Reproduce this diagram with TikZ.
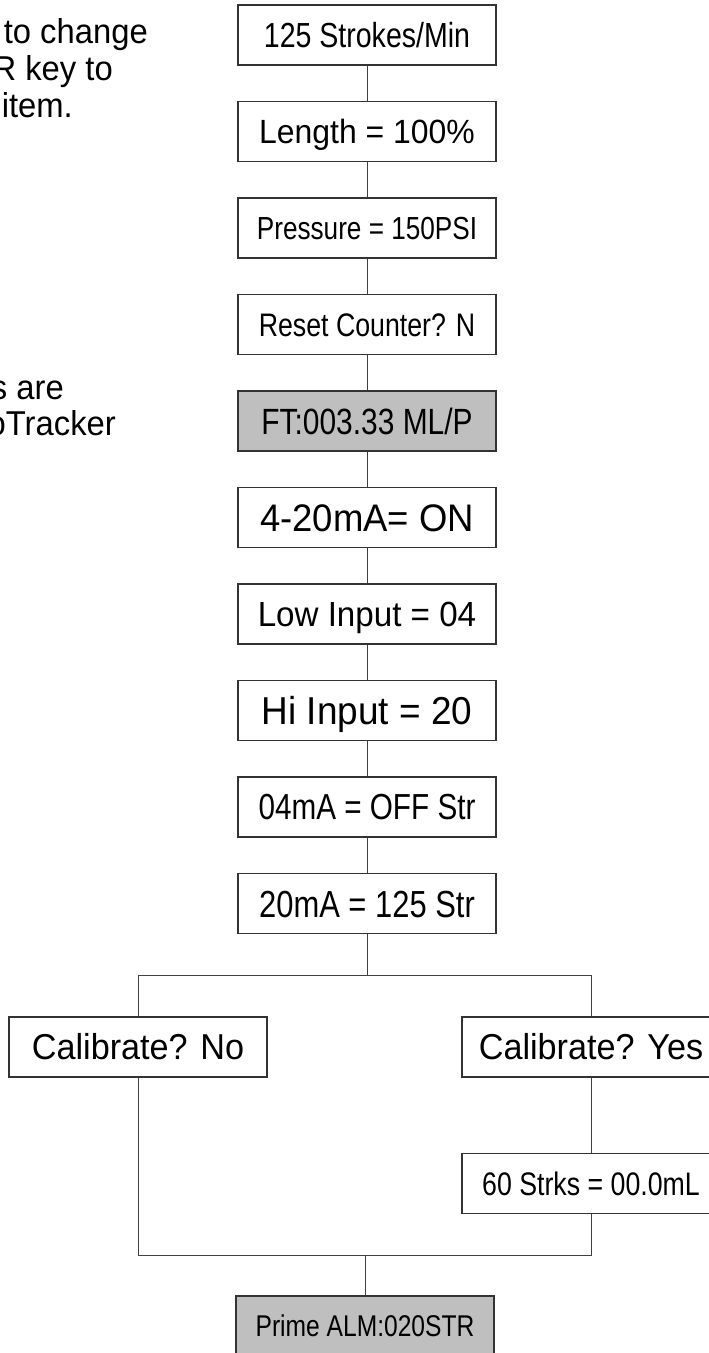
\documentclass[tikz,border=0pt]{standalone}
\usepackage{fontspec}
\setmainfont{Liberation Sans}
\newfontfamily\normfont[FakeStretch=0.95]{Liberation Sans}
\newfontfamily\narrowfont[FakeStretch=0.82]{Liberation Sans}
\begin{document}
\begin{tikzpicture}[x=1pt,y=-1pt,
  bx/.style={draw=black!80, line width=1.2pt, minimum width=258pt, minimum height=60pt, inner sep=0pt, text depth=0pt},
  gbx/.style={bx, fill=black!25},
  nf/.style 2 args={font=\normfont\fontsize{#1}{#1}\selectfont, text height=#2pt},
  cf/.style 2 args={font=\narrowfont\fontsize{#1}{#1}\selectfont, text height=#2pt},
  side/.style={inner sep=0pt, font=\normfont\fontsize{34.5}{34.5}\selectfont},
  conn/.style={draw=black!75, line width=1pt}]
\useasboundingbox (0,0) rectangle (709,1353);
\clip (0,0) rectangle (709,1353);
% side notes
\node[side, anchor=base east] (t1) at (148,43) {to change};
\node[side, anchor=base east] (t2) at (113,80) {R key to};
\node[side, anchor=base east] (t3) at (73,117) {item.};
\node[side, anchor=base east] (t4) at (64,399) {s are};
\node[side, anchor=base east] (t5) at (116,435) {oTracker};
% main column
\node[bx, cf={34.8}{24.9}] (n1) at (367,35) {125 Strokes/Min};
\node[bx, nf={33.6}{24.1}] (n2) at (367,131.5) {Length = 100\%};
\node[bx, cf={31.9}{22.8}] (n3) at (367,228) {Pressure = 150PSI};
\node[bx, cf={32.6}{23.4}] (n4) at (367,324.5) {Reset Counter? N};
\node[gbx, cf={36.5}{26.1}] (n5) at (367,421) {FT:003.33 ML/P};
\node[bx, nf={38.4}{27.5}] (n6) at (367,517.5) {4-20mA= ON};
\node[bx, nf={34.9}{25}] (n7) at (367,614) {Low Input = 04};
\node[bx, nf={38.9}{27.8}] (n8) at (367,710.5) {Hi Input = 20};
\node[bx, cf={36.2}{25.9}] (n9) at (367,807) {04mA = OFF Str};
\node[bx, cf={37.7}{27}] (n10) at (367,903.5) {20mA = 125 Str};
\node[bx, nf={36}{25.8}] (cno) at (138,1047) {Calibrate? No};
\node[bx, nf={36}{25.8}] (cyes) at (591,1047) {Calibrate? Yes};
\node[bx, cf={32.6}{23.4}] (s60) at (591,1183.5) {60 Strks = 00.0mL};
\node[gbx, cf={30}{21.5}] (prime) at (365,1326) {Prime ALM:020STR};
\coordinate (split) at (367,975);
\coordinate (join) at (365,1255);
% connectors
\draw[conn] (n1) -- (n2);
\draw[conn] (n2) -- (n3);
\draw[conn] (n3) -- (n4);
\draw[conn] (n4) -- (n5);
\draw[conn] (n5) -- (n6);
\draw[conn] (n6) -- (n7);
\draw[conn] (n7) -- (n8);
\draw[conn] (n8) -- (n9);
\draw[conn] (n9) -- (n10);
\draw[conn] (n10) -- (split);
\draw[conn] (cno.north) |- (split) -| (cyes.north);
\draw[conn] (cyes) -- (s60);
\draw[conn] (cno.south) |- (join) -| (s60.south);
\draw[conn] (join) -- (prime.north);
\end{tikzpicture}
\end{document}
